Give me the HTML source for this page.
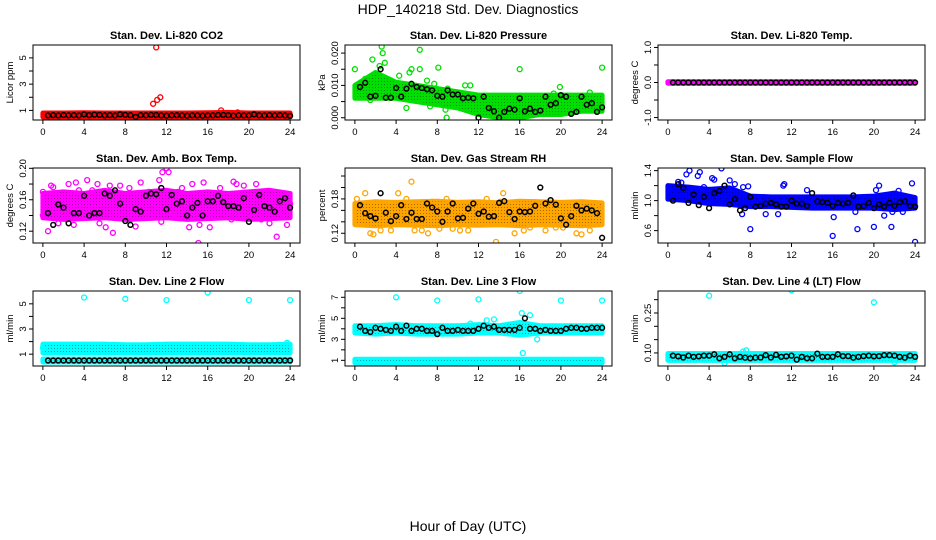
<!DOCTYPE html>
<html><head><meta charset="utf-8">
<style>
html,body{margin:0;padding:0;background:#fff;}
svg{display:block;font-family:"Liberation Sans",sans-serif;}
</style></head>
<body>
<svg id="chart" width="936" height="540" viewBox="0 0 936 540" xmlns="http://www.w3.org/2000/svg">
<defs>
<pattern id="speck" width="3" height="3" patternUnits="userSpaceOnUse"><rect width="1" height="1" fill="#000" fill-opacity="0.35"/></pattern>
</defs>
<rect width="936" height="540" fill="#fff"/>
<text x="468" y="14" text-anchor="middle" font-size="14">HDP_140218  Std. Dev. Diagnostics</text>
<text x="468" y="531" text-anchor="middle" font-size="14">Hour of Day (UTC)</text>
</svg>
<script>
// ---- data (x in hours; band arrays every 2 h from 0 to 24) ----
const bandHours = [0,2,4,6,8,10,12,14,16,18,20,22,24];
const blackHours = [0.5,1,1.5,2,2.5,3,3.5,4,4.5,5,5.5,6,6.5,7,7.5,8,8.5,9,9.5,10,10.5,11,11.5,12,12.5,13,13.5,14,14.5,15,15.5,16,16.5,17,17.5,18,18.5,19,19.5,20,20.5,21,21.5,22,22.5,23,23.5,24];

// P1 CO2
const co2BandLo = [0.5,0.5,0.5,0.5,0.5,0.5,0.5,0.5,0.5,0.5,0.5,0.5,0.5];
const co2BandHi = [0.8,0.8,0.82,0.8,0.8,0.8,0.8,0.8,0.82,0.85,0.8,0.8,0.8];
const co2X = [10.7,11.1,11.4,11.0,17.3,18.9];
const co2Y = [1.5,1.8,2.0,5.8,1.0,0.85];
const co2Black = [0.62,0.64,0.62,0.65,0.63,0.64,0.62,0.7,0.64,0.68,0.66,0.63,0.64,0.62,0.7,0.66,0.64,0.5,0.64,0.63,0.66,0.65,0.62,0.6,0.63,0.64,0.62,0.6,0.63,0.62,0.6,0.62,0.63,0.65,0.66,0.64,0.6,0.63,0.62,0.62,0.7,0.63,0.62,0.64,0.62,0.64,0.62,0.58];

// P2 Pressure
const presBandLo = [0.006,0.006,0.006,0.005,0.004,0.003,0.001,0.0,0.0,0.001,0.001,0.002,0.002];
const presBandHi = [0.010,0.014,0.011,0.010,0.009,0.008,0.007,0.007,0.007,0.007,0.007,0.007,0.007];
const presX = [0,1.7,2.6,2.7,2.9,2.4,4.3,5.3,5.5,6.3,6.3,8.1,5.0,7.3,8.8,8.9,9.0,10.7,11.2,16.0,19.9,24,7.0,7.7,1.0,1.5,19.3,22.8];
const presY = [0.015,0.018,0.022,0.020,0.017,0.016,0.013,0.014,0.015,0.021,0.015,0.0155,0.003,0.0035,0.0025,0.0,0.009,0.010,0.010,0.015,0.0095,0.0155,0.0115,0.0105,0.012,0.0055,0.0075,0.0078];
const presBlack = [0.0095,0.0108,0.0065,0.0068,0.015,0.0062,0.0062,0.0092,0.0065,0.009,0.0105,0.0095,0.0092,0.0088,0.0085,0.0068,0.0065,0.0085,0.0072,0.0072,0.006,0.0062,0.006,0.0,0.0065,0.003,0.002,0.0,0.0018,0.0028,0.0025,0.006,0.002,0.0028,0.0018,0.0022,0.0065,0.004,0.0045,0.007,0.0065,0.0012,0.0018,0.0065,0.004,0.0045,0.0018,0.0032];

// P3 Li-820 Temp
const tempBandLo = [-0.02,-0.02,-0.02,-0.02,-0.02,-0.02,-0.02,-0.02,-0.02,-0.02,-0.02,-0.02,-0.02];
const tempBandHi = [0.02,0.02,0.02,0.02,0.02,0.02,0.02,0.02,0.02,0.02,0.02,0.02,0.02];
const tempX = [];
const tempY = [];
const tempBlack = [0,0,0,0,0,0,0,0,0,0,0,0,0,0,0,0,0,0,0,0,0,0,0,0,0,0,0,0,0,0,0,0,0,0,0,0,0,0,0,0,0,0,0,0,0,0,0,0];

// P4 Amb Box Temp
const ambBandLo = [0.137,0.135,0.136,0.137,0.135,0.136,0.137,0.135,0.136,0.137,0.135,0.136,0.137];
const ambBandHi = [0.168,0.17,0.168,0.172,0.168,0.17,0.172,0.168,0.17,0.168,0.17,0.172,0.168];
const ambX = [0,0,0.5,0.8,1.5,2.3,2.5,3.2,3.5,4.3,4.8,5.3,5.5,6.1,6.5,6.8,7.5,8.4,8.5,9.5,10.0,10.3,11.3,11.6,11.5,12.0,12.2,12.6,13.1,13.5,14.2,14.5,15.1,15.2,16.0,16.2,17.2,18.3,18.8,19.5,20.3,20.7,21.2,22.0,22.7,23.0,23.7,24.0,1.0,3.0,9.0,15.6,18.5];
const ambY = [0.17,0.14,0.12,0.178,0.13,0.135,0.18,0.182,0.172,0.185,0.172,0.18,0.13,0.125,0.178,0.118,0.178,0.175,0.135,0.182,0.14,0.17,0.185,0.195,0.132,0.2,0.195,0.14,0.17,0.175,0.125,0.18,0.105,0.128,0.14,0.125,0.175,0.135,0.18,0.178,0.138,0.18,0.135,0.13,0.113,0.14,0.128,0.155,0.176,0.128,0.126,0.182,0.183];
const ambBlack = [0.143,0.128,0.154,0.15,0.13,0.143,0.143,0.165,0.14,0.143,0.143,0.168,0.165,0.172,0.155,0.133,0.128,0.148,0.145,0.165,0.168,0.167,0.175,0.148,0.166,0.155,0.158,0.14,0.15,0.156,0.14,0.158,0.158,0.165,0.157,0.152,0.152,0.15,0.162,0.132,0.147,0.166,0.152,0.15,0.145,0.158,0.162,0.15];

// P5 Gas Stream RH
const rhBandLo = [0.135,0.133,0.135,0.134,0.133,0.135,0.134,0.135,0.133,0.135,0.134,0.133,0.135];
const rhBandHi = [0.172,0.175,0.174,0.175,0.176,0.174,0.175,0.173,0.176,0.175,0.174,0.175,0.173];
const rhX = [0.2,0.5,1,1.5,1.8,2.5,3,3.5,4.2,5,5.5,5.8,6.5,7.1,7.5,8.2,8.9,9.5,10.2,11.0,12.1,12.8,13.7,14.1,14.4,15.5,16.4,17.0,17.5,18.5,19.5,20.2,21.5,22.0,22.8,23.3,23.8];
const rhY = [0.18,0.172,0.19,0.12,0.118,0.125,0.172,0.125,0.19,0.18,0.21,0.125,0.125,0.12,0.175,0.128,0.18,0.128,0.125,0.125,0.165,0.18,0.105,0.175,0.19,0.12,0.125,0.13,0.165,0.125,0.13,0.13,0.12,0.118,0.125,0.17,0.17];
const rhBlack = [0.169,0.155,0.15,0.146,0.19,0.156,0.141,0.15,0.169,0.145,0.156,0.145,0.145,0.172,0.165,0.158,0.14,0.158,0.172,0.146,0.147,0.163,0.172,0.154,0.158,0.149,0.15,0.173,0.176,0.157,0.145,0.158,0.157,0.158,0.168,0.2,0.172,0.178,0.17,0.146,0.135,0.15,0.168,0.16,0.163,0.16,0.155,0.112];

// P6 Sample Flow
const sfBandLo = [1.02,1.0,0.96,0.95,0.92,0.92,0.91,0.9,0.9,0.9,0.9,0.88,0.9];
const sfBandHi = [1.2,1.18,1.15,1.17,1.06,1.05,1.05,1.05,1.05,1.05,1.06,1.1,1.04];
const sfX = [1.8,2.1,2.9,3.1,3.5,4.3,4.5,5.2,6.0,6.5,7.3,7.8,7.2,8.0,9.5,10.7,11.2,11.3,13.5,16.0,16.1,18.2,18.4,20.2,20.5,20.0,21.0,21.7,21.8,22.4,23.7,24,22.8,1.0,1.3];
const sfY = [1.35,1.4,1.33,1.38,1.18,1.3,1.28,1.43,1.27,1.22,1.18,1.19,0.82,0.62,0.82,0.82,1.2,1.22,1.14,0.53,0.78,0.85,0.62,1.14,1.2,0.65,0.8,0.65,0.85,1.13,1.23,0.45,0.85,1.25,1.24];
const sfBlack = [1.0,1.22,1.17,0.97,1.08,0.94,1.05,0.9,1.1,1.13,1.2,0.95,1.02,0.87,0.9,1.05,0.92,0.93,0.96,0.97,0.95,0.92,0.92,1.0,0.96,0.96,0.93,1.1,0.99,0.98,0.97,0.93,0.97,0.96,0.97,1.07,0.92,0.93,0.97,0.9,0.95,0.92,0.97,0.93,0.98,0.99,0.93,0.92];

// P7 Line 2 Flow
const l2BandLo = [1.1,1.1,1.1,1.1,1.1,1.1,1.1,1.1,1.1,1.1,1.1,1.1,1.1];
const l2BandHi = [1.8,1.8,1.8,1.8,1.75,1.75,1.8,1.8,1.8,1.8,1.75,1.75,1.8];
const l2Band2Lo = [0.38,0.38,0.38,0.38,0.38,0.38,0.38,0.38,0.38,0.38,0.38,0.38,0.38];
const l2Band2Hi = [0.62,0.62,0.62,0.62,0.62,0.62,0.62,0.62,0.62,0.62,0.62,0.62,0.62];
const l2X = [4,8,12,16,20,24,23.7,0];
const l2Y = [5.5,5.4,5.3,5.9,5.3,5.3,1.9,1.5];
const l2Black = [0.5,0.5,0.5,0.5,0.5,0.5,0.5,0.5,0.5,0.5,0.5,0.5,0.5,0.5,0.5,0.5,0.5,0.5,0.5,0.5,0.5,0.5,0.5,0.5,0.5,0.5,0.5,0.5,0.5,0.5,0.5,0.5,0.5,0.5,0.5,0.5,0.5,0.5,0.5,0.5,0.5,0.5,0.5,0.5,0.5,0.5,0.5,0.5];

// P8 Line 3 Flow
const l3BandLo = [3.6,3.5,3.6,3.5,3.5,3.5,3.6,3.6,3.4,3.6,3.6,3.6,3.6];
const l3BandHi = [4.3,4.3,4.4,4.3,4.3,4.3,4.4,4.3,4.6,4.3,4.3,4.3,4.3];
const l3Band2Lo = [0.75,0.75,0.75,0.75,0.75,0.75,0.75,0.75,0.75,0.75,0.75,0.75,0.75];
const l3Band2Hi = [1.1,1.1,1.1,1.1,1.1,1.1,1.1,1.1,1.1,1.1,1.1,1.1,1.1];
const l3X = [4,8,12,16,20,24,16.2,17,16.3,17.7,12.8,13.5,15.8,11.2];
const l3Y = [7,6.7,6.8,7.6,6.7,6.7,5.5,5.3,1.7,3.0,4.8,4.9,3.5,4.5];
const l3Black = [4.2,3.8,3.7,4.1,4.0,3.9,3.8,4.2,3.8,4.3,3.8,4.0,4.0,3.8,3.8,3.5,4.1,3.8,3.8,3.9,3.8,3.8,3.8,4.0,4.3,4.1,4.2,3.9,3.9,3.9,3.9,4.1,5.0,4.0,4.0,3.8,3.9,3.8,3.8,3.8,4.0,4.1,4.1,4.0,4.0,4.1,4.1,4.1];

// P9 Line 4 (LT) Flow
const l4BandLo = [0.072,0.072,0.072,0.072,0.072,0.072,0.072,0.072,0.072,0.072,0.072,0.072,0.072];
const l4BandHi = [0.098,0.098,0.098,0.098,0.098,0.098,0.098,0.098,0.098,0.098,0.098,0.098,0.098];
const l4X = [4,12,20,7.3,7.6,22,5.5];
const l4Y = [0.315,0.335,0.29,0.105,0.11,0.065,0.062];
const l4Black = [0.09,0.087,0.083,0.09,0.085,0.087,0.09,0.09,0.095,0.08,0.085,0.095,0.08,0.085,0.082,0.08,0.082,0.083,0.092,0.083,0.093,0.085,0.087,0.09,0.075,0.085,0.08,0.08,0.097,0.085,0.085,0.085,0.095,0.088,0.088,0.082,0.085,0.088,0.09,0.087,0.088,0.092,0.092,0.09,0.085,0.082,0.09,0.085];

const xTicks = [0,4,8,12,16,20,24];

// ---- layout ----
const cols = [33,345,658];
const rows = [45,168,291];
const W = 267, H = 75;
const panels = [
 {name:'co2',title:'Stan. Dev. Li-820 CO2',yl:'Licor ppm',c:0,r:0,ymin:0.27,ymax:5.98,ticks:[1,2,3,4,5],labels:[1,3,5],fmt:0,col:'#ff0000',bands:[[co2BandLo,co2BandHi]],sx:co2X,sy:co2Y,bk:co2Black},
 {name:'pressure',title:'Stan. Dev. Li-820 Pressure',yl:'kPa',c:1,r:0,ymin:-0.0007,ymax:0.0225,ticks:[0,0.005,0.01,0.015,0.02],labels:[0,0.01,0.02],fmt:3,col:'#00e000',bands:[[presBandLo,presBandHi]],sx:presX,sy:presY,bk:presBlack},
 {name:'li820-temp',title:'Stan. Dev. Li-820 Temp.',yl:'degrees C',c:2,r:0,ymin:-1.07,ymax:1.07,ticks:[-1,-0.5,0,0.5,1],labels:[-1,0,1],fmt:1,col:'#ff00ff',bands:[[tempBandLo,tempBandHi]],sx:tempX,sy:tempY,bk:tempBlack},
 {name:'amb-box-temp',title:'Stan. Dev. Amb. Box Temp.',yl:'degrees C',c:0,r:1,ymin:0.105,ymax:0.2004,ticks:[0.12,0.14,0.16,0.18,0.2],labels:[0.12,0.16,0.2],fmt:2,col:'#ff00ff',bands:[[ambBandLo,ambBandHi]],sx:ambX,sy:ambY,bk:ambBlack},
 {name:'gas-stream-rh',title:'Stan. Dev. Gas Stream RH',yl:'percent',c:1,r:1,ymin:0.103,ymax:0.234,ticks:[0.12,0.14,0.16,0.18,0.2,0.22],labels:[0.12,0.18],fmt:2,col:'#ffa500',bands:[[rhBandLo,rhBandHi]],sx:rhX,sy:rhY,bk:rhBlack},
 {name:'sample-flow',title:'Stan. Dev. Sample Flow',yl:'ml/min',c:2,r:1,ymin:0.435,ymax:1.435,ticks:[0.6,0.8,1.0,1.2,1.4],labels:[0.6,1.0,1.4],fmt:1,col:'#0000ff',bands:[[sfBandLo,sfBandHi]],sx:sfX,sy:sfY,bk:sfBlack},
 {name:'line2-flow',title:'Stan. Dev. Line 2 Flow',yl:'ml/min',c:0,r:2,ymin:0.06,ymax:6.02,ticks:[1,2,3,4,5],labels:[1,3,5],fmt:0,col:'#00ffff',bands:[[l2BandLo,l2BandHi],[l2Band2Lo,l2Band2Hi]],sx:l2X,sy:l2Y,bk:l2Black},
 {name:'line3-flow',title:'Stan. Dev. Line 3 Flow',yl:'ml/min',c:1,r:2,ymin:0.46,ymax:7.6,ticks:[1,2,3,4,5,6,7],labels:[1,3,5,7],fmt:0,col:'#00ffff',bands:[[l3BandLo,l3BandHi],[l3Band2Lo,l3Band2Hi]],sx:l3X,sy:l3Y,bk:l3Black},
 {name:'line4-flow',title:'Stan. Dev. Line 4 (LT) Flow',yl:'ml/min',c:2,r:2,ymin:0.051,ymax:0.3325,ticks:[0.1,0.15,0.2,0.25,0.3],labels:[0.1,0.25],fmt:2,col:'#00ffff',bands:[[l4BandLo,l4BandHi]],sx:l4X,sy:l4Y,bk:l4Black}
];

const svg = document.getElementById('chart');
const NS = 'http://www.w3.org/2000/svg';
function mk(tag, attrs, parent){
  const e = document.createElementNS(NS, tag);
  for (const k in attrs) e.setAttribute(k, attrs[k]);
  (parent||svg).appendChild(e);
  return e;
}

panels.forEach(p => {
  const L = cols[p.c], T = rows[p.r];
  const xs = h => L + (h + 0.96) / 25.92 * W;
  const ys = v => T + H - (v - p.ymin) / (p.ymax - p.ymin) * H;
  const g = mk('g', {});
  
  
  const clipId = 'clip-' + p.name;
  const cp = mk('clipPath', {id: clipId}, g);
  mk('rect', {x: L, y: T, width: W, height: H}, cp);
  const marks = mk('g', {'clip-path': 'url(#' + clipId + ')'}, g);
  
  
  p.bands.forEach(b => {
    let d = '';
    bandHours.forEach((h, i) => { d += (i ? 'L' : 'M') + xs(h).toFixed(1) + ',' + ys(b[1][i]).toFixed(1); });
    for (let i = bandHours.length - 1; i >= 0; i--) d += 'L' + xs(bandHours[i]).toFixed(1) + ',' + ys(b[0][i]).toFixed(1);
    d += 'Z';
    const band = mk('path', {d: d, fill: p.col, stroke: p.col, 'stroke-width': 5, 'stroke-linejoin': 'round'}, marks);
    
    
    const sp = mk('path', {d: d, fill: 'url(#speck)'}, marks);
    
    
  });
  p.sx.forEach((h, i) => {
    const c = mk('circle', {cx: xs(h).toFixed(1), cy: ys(p.sy[i]).toFixed(1), r: 2.5, fill: 'none', stroke: p.col, 'stroke-width': 1.3}, marks);
    
    
  });
  p.bk.forEach((v, i) => {
    const c = mk('circle', {cx: xs(blackHours[i]).toFixed(1), cy: ys(v).toFixed(1), r: 2.4, fill: 'none', stroke: '#000', 'stroke-width': 1.5}, marks);
    
    
  });
  const box = mk('rect', {x: L, y: T, width: W, height: H, fill: 'none', stroke: '#000', 'stroke-width': 1}, g);
  
  
  const t = mk('text', {x: L + W / 2, y: T - 6, 'text-anchor': 'middle', 'font-size': 11, 'font-weight': 'bold'}, g);
  t.textContent = p.title;
  
  
  xTicks.forEach(h => {
    mk('line', {x1: xs(h), x2: xs(h), y1: T + H, y2: T + H + 4, stroke: '#000'}, g);
    const lb = mk('text', {x: xs(h), y: T + H + 15, 'text-anchor': 'middle', 'font-size': 9.5}, g);
    lb.textContent = h;
    
    
  });
  p.ticks.forEach(v => {
    mk('line', {x1: L - 4, x2: L, y1: ys(v), y2: ys(v), stroke: '#000'}, g);
  });
  p.labels.forEach(v => {
    const x = L - 7, y = ys(v);
    const lb = mk('text', {x: x, y: y, 'text-anchor': 'middle', 'font-size': 9.5, transform: 'rotate(-90 ' + x + ' ' + y + ')'}, g);
    lb.textContent = v.toFixed(p.fmt);
    
    
  });
  const yx = L - 20, yy = T + H / 2;
  const yl = mk('text', {x: yx, y: yy, 'text-anchor': 'middle', 'font-size': 9.5, transform: 'rotate(-90 ' + yx + ' ' + yy + ')'}, g);
  yl.textContent = p.yl;
  
  
});
</script>
</body></html>
